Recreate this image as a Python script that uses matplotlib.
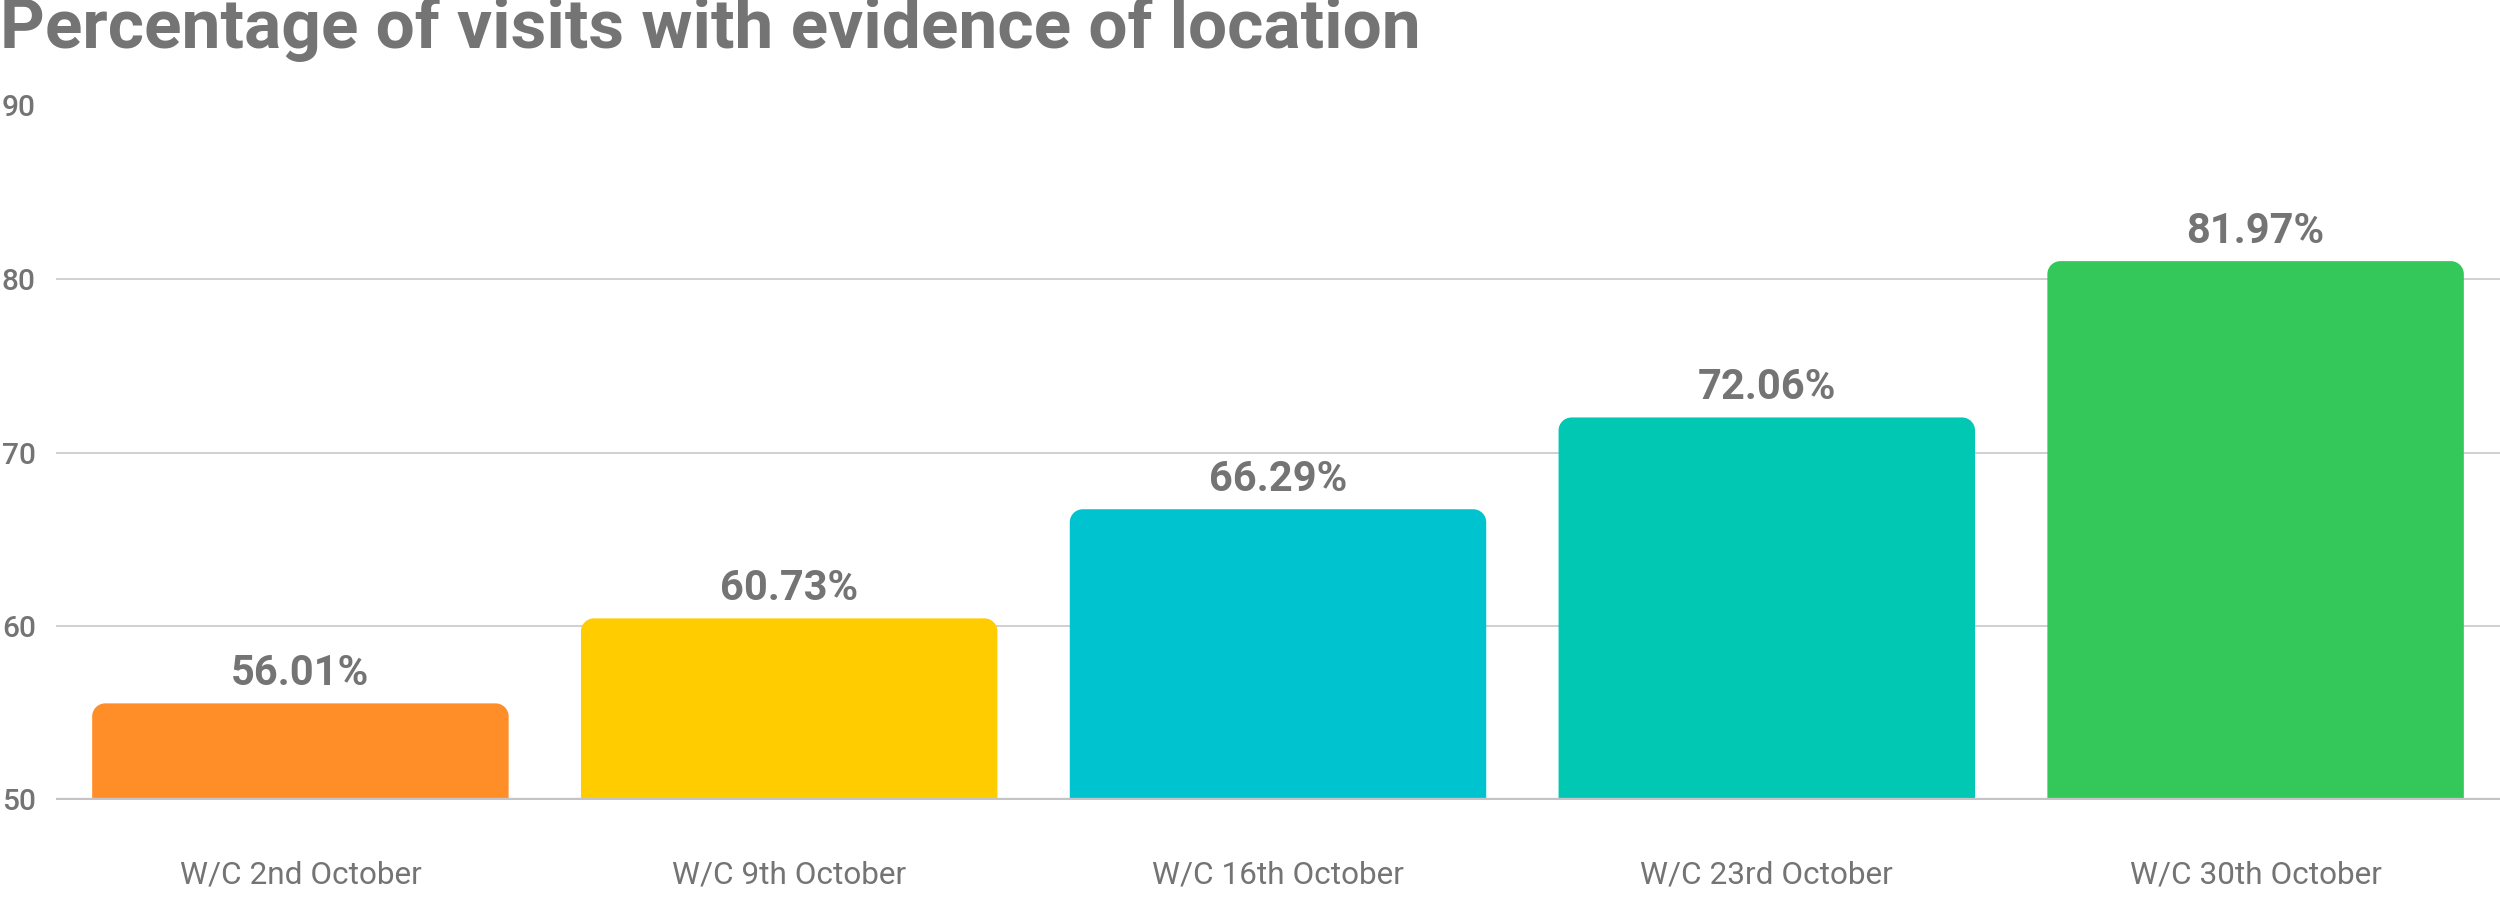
import matplotlib
matplotlib.use("Agg")
import matplotlib.pyplot as plt
from matplotlib.path import Path
from matplotlib.patches import PathPatch

# ---- data ----
categories = ["W/C 2nd October", "W/C 9th October", "W/C 16th October",
              "W/C 23rd October", "W/C 30th October"]
bar_values = [55.54, 60.44, 66.73, 72.02, 81.03]          # bar heights
value_labels = ["56.01%", "60.73%", "66.29%", "72.06%", "81.97%"]
y_ticks = [50, 60, 70, 80, 90]
colors = ["#FF8D28", "#FFCC00", "#00C3D0", "#00C8B3", "#34C759"]
title = "Percentage of visits with evidence of location"

TEXT = "#747474"
GRID = "#D0D0D4"
BASE = "#C4C4C8"

plt.rcParams['font.family'] = ['Roboto', 'DejaVu Sans']

W, H, DPI = 2500, 899, 100
fig = plt.figure(figsize=(W / DPI, H / DPI), dpi=DPI)
left_px, right_px, top_px, bottom_px = 56, 2500, 105.5, 799.5
ax = fig.add_axes([left_px / W, 1 - bottom_px / H,
                   (right_px - left_px) / W, (bottom_px - top_px) / H])

ax.set_xlim(-0.5, len(categories) - 0.5)
ax.set_ylim(y_ticks[0], y_ticks[-1])

bar_w = 0.852
bars = ax.bar(range(len(categories)), [v - y_ticks[0] for v in bar_values],
              bottom=y_ticks[0], width=bar_w, color=colors, zorder=2)

# rounded top corners (radius in pixels converted to data units)
px_per_x = (right_px - left_px) / len(categories)
px_per_y = (bottom_px - top_px) / (y_ticks[-1] - y_ticks[0])
r_px = 13
rx, ry = r_px / px_per_x, r_px / px_per_y
k = 0.5523
for rect, c in zip(bars, colors):
    x0 = rect.get_x(); x1 = x0 + rect.get_width()
    y0 = rect.get_y(); y1 = y0 + rect.get_height()
    verts = [(x0, y0), (x0, y1 - ry),
             (x0, y1 - ry + k * ry), (x0 + rx - k * rx, y1), (x0 + rx, y1),
             (x1 - rx, y1),
             (x1 - rx + k * rx, y1), (x1, y1 - ry + k * ry), (x1, y1 - ry),
             (x1, y0), (x0, y0)]
    codes = [Path.MOVETO, Path.LINETO,
             Path.CURVE4, Path.CURVE4, Path.CURVE4,
             Path.LINETO,
             Path.CURVE4, Path.CURVE4, Path.CURVE4,
             Path.LINETO, Path.CLOSEPOLY]
    rect.set_visible(False)
    ax.add_patch(PathPatch(Path(verts, codes), facecolor=c, edgecolor='none', zorder=2))

# value labels
for i, (v, lab) in enumerate(zip(bar_values, value_labels)):
    ax.annotate(lab, (i, v), xytext=(0, 13), textcoords='offset points',
                ha='center', va='baseline', fontsize=30, fontweight='bold',
                color=TEXT, zorder=3)

# grid
for t in y_ticks[1:]:
    ax.axhline(t, color=GRID, lw=1.4, zorder=1)
ax.axhline(y_ticks[0], color=BASE, lw=2.4, zorder=4)

for s in ax.spines.values():
    s.set_visible(False)

ax.set_yticks(y_ticks)
ax.set_yticklabels([str(t) for t in y_ticks], fontsize=21.5, fontweight='medium',
                   color=TEXT, ha='left')
ax.tick_params(axis='y', length=0, pad=38.9)

ax.set_xticks(range(len(categories)))
ax.set_xticklabels(categories, fontsize=22.7, color=TEXT)
ax.tick_params(axis='x', length=0, pad=44)

fig.text(0, 1 - 48.5 / H, title, fontsize=50, fontweight='bold',
         color=TEXT, ha='left', va='baseline')

fig.savefig("out.png", dpi=DPI, facecolor='white')
